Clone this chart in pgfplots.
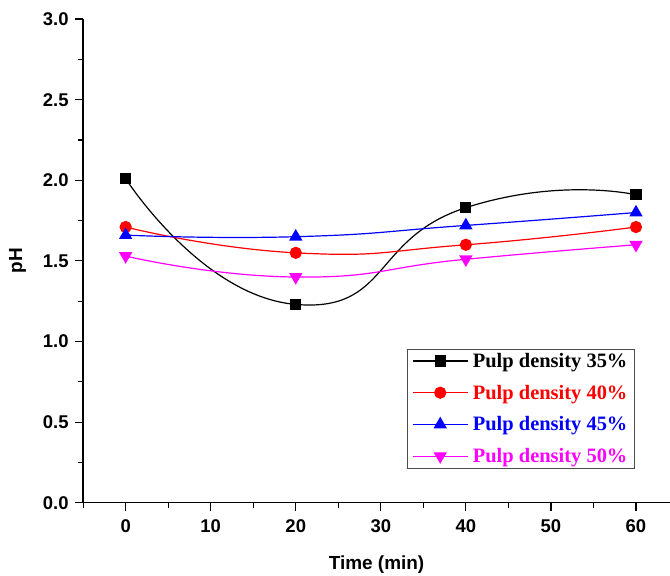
\documentclass[border=0pt]{standalone}
\usepackage{fontspec}
\setmainfont{Liberation Sans}
\newfontfamily\legfont{Liberation Serif}
\usepackage{pgfplots}
\pgfplotsset{compat=1.18}
\definecolor{mag}{RGB}{255,0,255}
\begin{document}
\begin{tikzpicture}
\begin{axis}[
  name=ax,
  scale only axis,
  width=586bp, height=483bp,
  xmin=-5, xmax=64, ymin=0, ymax=3,
  axis x line*=bottom, axis y line*=left,
  axis line style={line width=1.4bp, -},
  xtick={0,10,...,60}, minor xtick={-5,5,...,60},
  ytick={0,0.5,...,3.0}, minor ytick={0.25,0.75,...,2.75},
  tick align=outside,
  major tick length=8bp, minor tick length=5bp,
  every tick/.style={line width=1.2bp, black},
  /pgf/number format/assume math mode=true,
  ticklabel style={font=\fontsize{18.5}{21}\selectfont\bfseries},
  yticklabel style={xshift=-3bp, /pgf/number format/.cd, fixed, fixed zerofill, precision=1},
  xticklabel style={yshift=-5bp},
  xlabel={Time (min)}, ylabel={pH},
  label style={font=\fontsize{19}{22}\selectfont\bfseries},
  xlabel style={yshift=-16bp},
  ylabel style={yshift=10bp},
  legend style={at={(axis cs:33.1,0.955)}, anchor=north west,
    draw=black!70, line width=0.8bp, font=\fontsize{20.5}{24}\selectfont\legfont\bfseries,
    cells={anchor=west}, row sep=12bp, column sep=3bp, inner xsep=5bp, inner ysep=2bp},
  legend image code/.code={\draw[#1, mark repeat=2, mark phase=2] plot coordinates {(0bp,0bp) (27bp,0bp) (54bp,0bp)};},
]
\addplot[black, line width=1.2bp, smooth, tension=1, mark=square*, mark size=5bp, mark options={solid}] coordinates {(0,2.01) (20,1.23) (40,1.83) (60,1.91)};
\addlegendentry{\textcolor{black}{Pulp density 35\%}}
\addplot[red, line width=1.2bp, smooth, tension=0.9, mark=*, mark size=5.5bp] coordinates {(0,1.71) (20,1.55) (40,1.60) (60,1.71)};
\addlegendentry{\textcolor{red}{Pulp density 40\%}}
\addplot[blue, line width=1.2bp, smooth, tension=0.9, mark=triangle*, mark size=6.5bp] coordinates {(0,1.66) (20,1.65) (40,1.72) (60,1.80)};
\addlegendentry{\textcolor{blue}{Pulp density 45\%}}
\addplot[mag, line width=1.2bp, smooth, tension=0.9, mark=triangle*, mark size=6.5bp, mark options={rotate=180}] coordinates {(0,1.53) (20,1.40) (40,1.51) (60,1.60)};
\addlegendentry{\textcolor{mag}{Pulp density 50\%}}
\end{axis}
\pgfresetboundingbox
\path[use as bounding box] ([xshift=-83bp,yshift=-73bp]ax.south west) rectangle ([yshift=19bp]ax.north east);
\end{tikzpicture}
\end{document}
